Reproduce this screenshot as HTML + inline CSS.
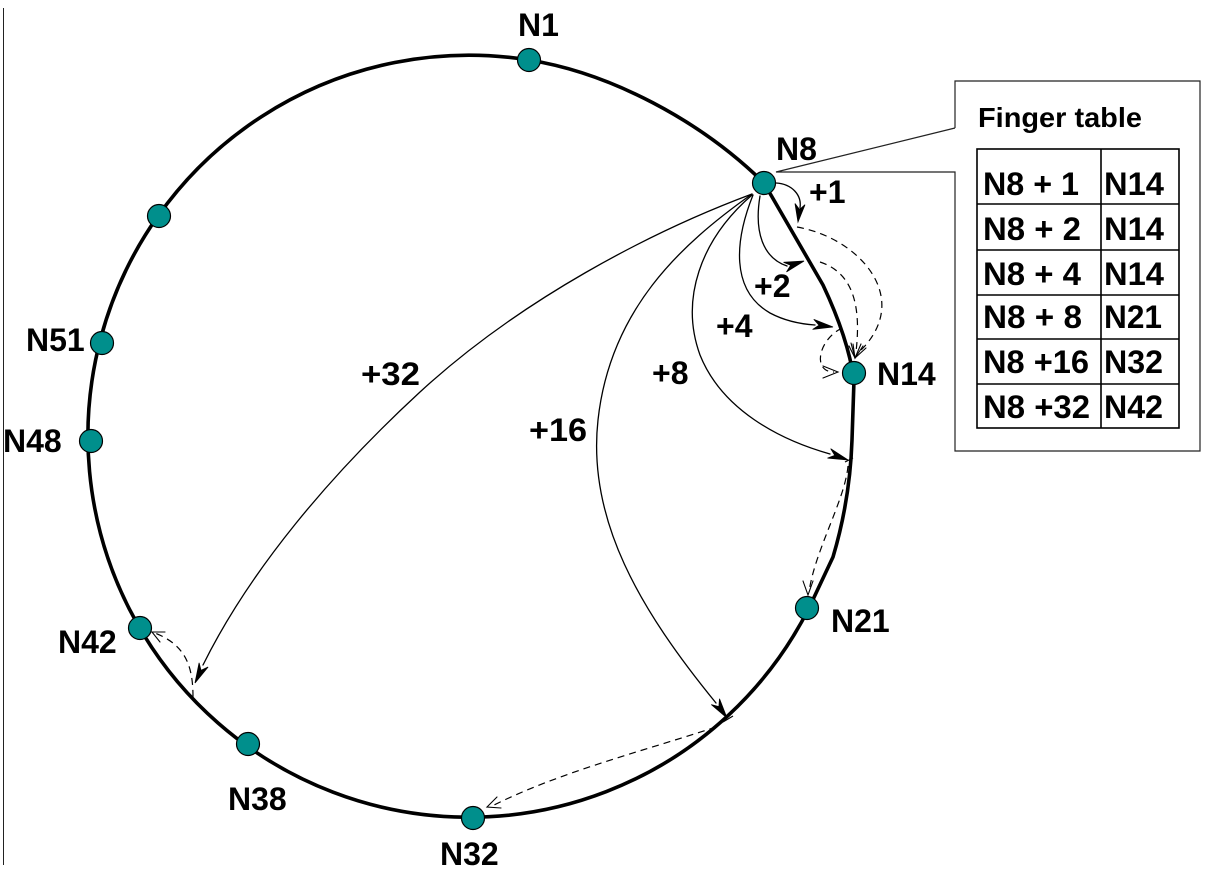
<!DOCTYPE html>
<html>
<head>
<meta charset="utf-8">
<style>
  html, body { margin:0; padding:0; background:#ffffff; }
  svg { display:block; }
  text { font-family: "Liberation Sans", Arial, sans-serif; font-weight:bold; fill:#000; }
</style>
</head>
<body>
<svg width="1212" height="891" viewBox="0 0 1212 891" xmlns="http://www.w3.org/2000/svg">
  <rect x="0" y="0" width="1212" height="891" fill="#ffffff"/>

  <!-- left border line -->
  <line x1="3.5" y1="8" x2="3.5" y2="865" stroke="#222" stroke-width="1"/>

  <!-- ring -->
  <path d="M 764,183 L 823,285 Q 848,338 854,380 L 852,440 Q 850,500 833,557 L 809,608 A 381 381 0 1 1 529,60 C 610,73 700,120 764,183 Z"
        fill="none" stroke="#000" stroke-width="3.6" stroke-linejoin="round"/>

  <!-- callout box -->
  <path d="M 955,128 L 955,81 L 1200,81 L 1200,451 L 955,451 L 955,172 L 776,172 L 955,128"
        fill="none" stroke="#222" stroke-width="1.2"/>

  <!-- finger table -->
  <g stroke="#000" stroke-width="1.6" fill="none">
    <rect x="977" y="149" width="202" height="279"/>
    <line x1="1101" y1="149" x2="1101" y2="428"/>
    <line x1="977" y1="204" x2="1179" y2="204"/>
    <line x1="977" y1="250" x2="1179" y2="250"/>
    <line x1="977" y1="295" x2="1179" y2="295"/>
    <line x1="977" y1="339" x2="1179" y2="339"/>
    <line x1="977" y1="384" x2="1179" y2="384"/>
  </g>
  <text x="978" y="127" font-size="28" textLength="164" lengthAdjust="spacingAndGlyphs">Finger table</text>
  <g font-size="32">
    <text x="983" y="195" textLength="96" lengthAdjust="spacingAndGlyphs">N8 + 1</text>
    <text x="983" y="240" textLength="98" lengthAdjust="spacingAndGlyphs">N8 + 2</text>
    <text x="983" y="285" textLength="98" lengthAdjust="spacingAndGlyphs">N8 + 4</text>
    <text x="983" y="328" textLength="99" lengthAdjust="spacingAndGlyphs">N8 + 8</text>
    <text x="983" y="373" textLength="106" lengthAdjust="spacingAndGlyphs">N8 +16</text>
    <text x="983" y="418" textLength="107" lengthAdjust="spacingAndGlyphs">N8 +32</text>
    <text x="1104" y="195" textLength="60" lengthAdjust="spacingAndGlyphs">N14</text>
    <text x="1104" y="240" textLength="60" lengthAdjust="spacingAndGlyphs">N14</text>
    <text x="1104" y="285" textLength="60" lengthAdjust="spacingAndGlyphs">N14</text>
    <text x="1104" y="328" textLength="58" lengthAdjust="spacingAndGlyphs">N21</text>
    <text x="1104" y="373" textLength="59" lengthAdjust="spacingAndGlyphs">N32</text>
    <text x="1104" y="418" textLength="59" lengthAdjust="spacingAndGlyphs">N42</text>
  </g>

  <!-- finger chords (solid) -->
  <g fill="none" stroke="#000" stroke-width="1.3" stroke-linejoin="round" stroke-linecap="round">
    <path d="M776,183 C 792,184 802,195 800,208"/>
    <path d="M760,196 C 754,232 763,258 787,266"/>
    <path d="M753,195 C 735,240 730,290 770,313 C 785,321 800,324 815,325"/>
    <path d="M752,195 C 700,240 680,300 700,355 C 722,410 780,440 830,454"/>
    <path d="M752,194 C 680,245 610,310 598,420 C 587,520 640,610 716,703"/>
    <path d="M752,194 C 650,232 520,300 420,392 C 330,475 250,570 203,665"/>
  </g>

  <!-- filled arrowheads -->
  <g fill="#000" stroke="#000" stroke-width="0.8" stroke-linejoin="miter">
    <polygon points="798,222 805,204.7 799.5,209.5 795,203.5"/>
    <polygon points="804,261 786.5,271.9 790.7,265.2 783.5,262.3"/>
    <polygon points="833,327 812.6,329.4 819.1,325.2 813.8,319.4"/>
    <polygon points="848,460 827.5,458.1 834.8,455.4 830.7,448.7"/>
    <polygon points="727,718 711.3,704.6 718.9,706.6 719.5,698.8"/>
    <polygon points="195,683 199.1,662.8 201,670.4 208.1,667"/>
  </g>
  <g stroke="#000" stroke-width="1.2">
    <line x1="845" y1="462" x2="853" y2="458"/>
    <line x1="723" y1="722" x2="733" y2="716"/>
  </g>

  <!-- dashed successor paths -->
  <g fill="none" stroke="#000" stroke-width="1.2" stroke-dasharray="7 5" stroke-linejoin="round">
    <path d="M797,227 C 860,238 915,300 858,353"/>
    <path d="M820,262 C 850,272 862,300 856,352"/>
    <path d="M842,328 C 818,340 812,372 834,372"/>
    <path d="M848,466 C 845,500 815,550 809,592"/>
    <path d="M716,727 C 640,752 560,772 492,806"/>
    <path d="M193,697 C 193,665 185,645 155,633"/>
  </g>

  <!-- open arrowheads -->
  <g fill="none" stroke="#000" stroke-width="1.1" stroke-linecap="round">
    <polyline points="851,343 855,358 866,348"/>
    <polyline points="849,346 855,358 861,344"/>
    <polyline points="853,344 855,358 863,346"/>
    <polyline points="823,366 838,372 823,378"/>
    <polyline points="803,581 808,595 813,581"/>
    <polyline points="497,797 487,807 501,808"/>
    <polyline points="160,642 152,632 165,632"/>
  </g>

  <!-- nodes -->
  <g fill="#008f8c" stroke="#000" stroke-width="1.2">
    <circle cx="529" cy="60" r="11.5"/>
    <circle cx="764" cy="183" r="11.5"/>
    <circle cx="854" cy="373" r="11.5"/>
    <circle cx="807" cy="608" r="11.5"/>
    <circle cx="473" cy="818" r="11.5"/>
    <circle cx="248" cy="744" r="11.5"/>
    <circle cx="140" cy="628" r="11.5"/>
    <circle cx="91" cy="441" r="11.5"/>
    <circle cx="102" cy="343" r="11.5"/>
    <circle cx="159" cy="216" r="11.5"/>
  </g>

  <!-- node labels -->
  <g font-size="32">
    <text x="518" y="36">N1</text>
    <text x="776" y="160">N8</text>
    <text x="877" y="385">N14</text>
    <text x="831" y="632">N21</text>
    <text x="440" y="865">N32</text>
    <text x="228" y="810">N38</text>
    <text x="58" y="653">N42</text>
    <text x="3" y="452">N48</text>
    <text x="26" y="351">N51</text>
  </g>

  <!-- chord labels -->
  <g font-size="32">
    <text x="809" y="203">+1</text>
    <text x="754" y="297">+2</text>
    <text x="716" y="337">+4</text>
    <text x="652" y="384">+8</text>
    <text x="529" y="441" textLength="58" lengthAdjust="spacingAndGlyphs">+16</text>
    <text x="361" y="385" textLength="59" lengthAdjust="spacingAndGlyphs">+32</text>
  </g>
</svg>
</body>
</html>
